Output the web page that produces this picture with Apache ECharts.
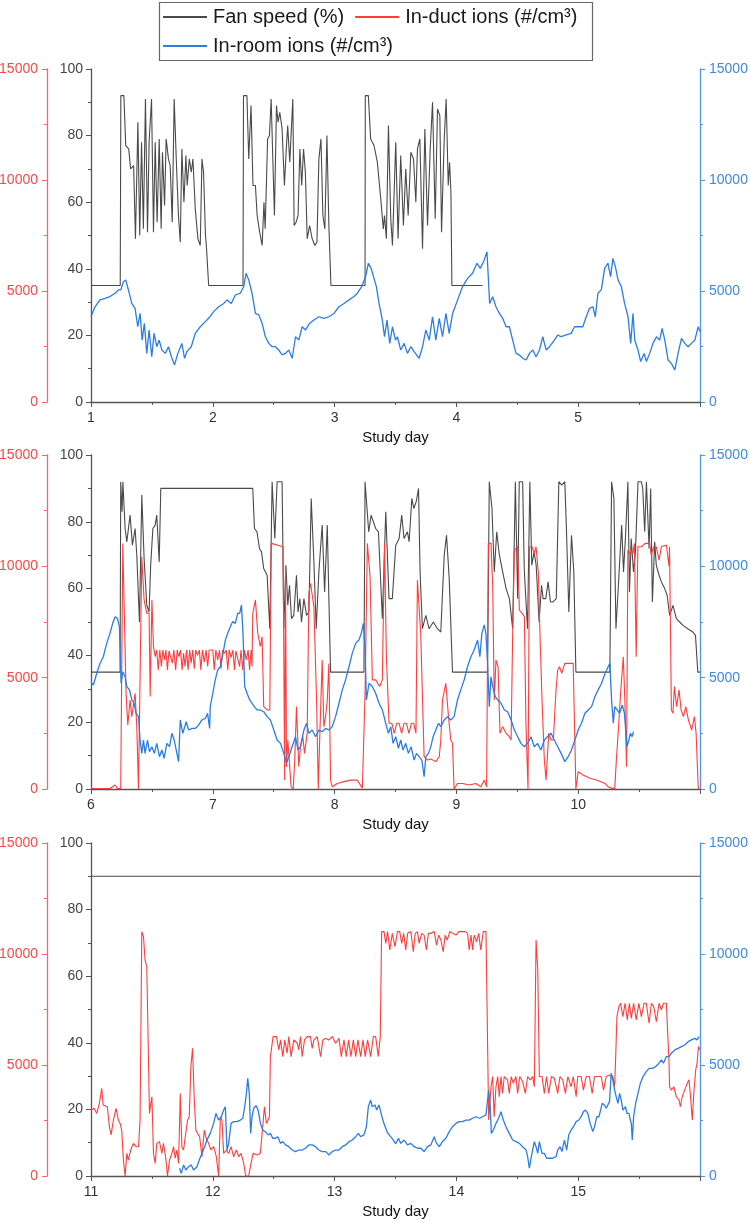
<!DOCTYPE html>
<html>
<head>
<meta charset="utf-8">
<script src="https://cdn.jsdelivr.net/npm/echarts@6/dist/echarts.min.js"></script>
<style>
html,body{margin:0;padding:0;background:#fff;}
#chart{width:750px;height:1221px;}
</style>
</head>
<body>
<div id="chart"></div>
<script>
// ---------- DATA ----------
const panelStarts = [1, 6, 11];
const seriesNames = ['Fan speed (%)', 'In-duct ions (#/cm³)', 'In-room ions (#/cm³)'];

const fanP1 = [[1.0,35],[1.24,35],[1.245,92],[1.27,92],[1.285,77],[1.31,76],[1.325,70],[1.35,71],[1.365,49],[1.385,84],[1.40,50],[1.415,78],[1.43,52],[1.447,91],[1.464,51],[1.477,78],[1.497,91],[1.513,51],[1.527,78],[1.543,54],[1.56,79],[1.576,52],[1.587,75],[1.604,59],[1.617,79],[1.636,73],[1.65,71],[1.667,54],[1.683,91],[1.70,73],[1.718,56],[1.733,48],[1.746,76],[1.763,60],[1.779,74],[1.79,65],[1.807,73],[1.823,69],[1.837,73],[1.856,58],[1.878,49],[1.897,47],[1.911,73],[1.924,69],[1.94,50],[1.947,47],[1.966,35],[2.248,35],[2.252,92],[2.28,92],[2.295,73],[2.314,89],[2.33,65],[2.35,65],[2.364,56],[2.385,51],[2.405,47],[2.42,60],[2.43,52],[2.45,79],[2.465,80],[2.479,91],[2.492,74],[2.506,56],[2.523,89],[2.536,84],[2.55,87],[2.569,82],[2.588,65],[2.605,77],[2.615,83],[2.632,72],[2.657,91],[2.668,53],[2.684,54],[2.70,56],[2.715,76],[2.73,65],[2.745,76],[2.76,69],[2.775,49],[2.795,53],[2.816,49],[2.838,47],[2.855,48],[2.871,73],[2.888,79],[2.904,56],[2.92,52],[2.937,80],[2.953,53],[2.97,35],[3.25,35],[3.252,92],[3.277,92],[3.296,79],[3.324,77],[3.351,72],[3.379,61],[3.40,52],[3.41,56],[3.425,49],[3.442,83],[3.461,55],[3.475,47],[3.502,78],[3.521,49],[3.543,74],[3.565,53],[3.584,70],[3.604,56],[3.626,75],[3.648,73],[3.667,60],[3.68,76],[3.70,79],[3.722,46],[3.741,82],[3.763,53],[3.785,76],[3.804,90],[3.826,55],[3.845,88],[3.864,86],[3.878,51],[3.90,79],[3.916,91],[3.933,65],[3.944,72],[3.955,63],[3.963,35],[4.215,35]];

const roomP1 = [[1.0,3840],[1.033,4290],[1.074,4600],[1.115,4670],[1.156,4750],[1.198,4900],[1.225,5050],[1.245,5050],[1.266,5420],[1.285,5500],[1.307,5050],[1.335,4440],[1.362,4220],[1.384,3390],[1.403,3990],[1.42,2790],[1.438,3540],[1.458,2190],[1.477,3240],[1.499,2040],[1.518,3090],[1.54,2490],[1.56,2790],[1.582,2340],[1.61,2190],[1.636,2490],[1.66,2040],[1.686,1670],[1.713,2190],[1.746,2640],[1.768,1970],[1.787,2270],[1.823,2490],[1.856,3090],[1.897,3390],[1.924,3540],[1.966,3770],[2.007,4070],[2.048,4290],[2.09,4440],[2.117,4600],[2.152,4440],[2.185,4820],[2.226,4900],[2.254,5200],[2.273,5800],[2.295,5500],[2.322,4900],[2.35,3990],[2.378,3920],[2.405,3540],[2.432,2940],[2.46,2640],[2.487,2490],[2.514,2490],[2.542,2340],[2.569,2120],[2.597,2190],[2.624,2340],[2.652,1970],[2.679,2940],[2.706,2790],[2.734,3390],[2.761,3240],[2.794,3540],[2.83,3690],[2.871,3840],[2.912,3770],[2.953,3840],[2.995,3990],[3.036,4290],[3.077,4440],[3.118,4600],[3.159,4750],[3.187,4900],[3.222,5200],[3.255,5650],[3.277,6250],[3.30,6020],[3.343,5200],[3.365,4440],[3.392,3690],[3.41,2940],[3.43,3690],[3.453,2640],[3.475,3390],[3.50,2790],[3.516,2940],[3.543,2340],[3.571,2640],[3.598,2190],[3.626,2490],[3.653,2270],[3.694,1970],[3.722,2490],[3.749,3240],[3.777,2790],[3.804,3840],[3.831,2790],[3.859,3770],[3.886,2940],[3.914,3990],[3.941,3090],[3.969,3990],[4.01,4600],[4.051,5200],[4.092,5570],[4.133,5800],[4.169,6250],[4.196,6020],[4.229,6400],[4.251,6770],[4.273,4440],[4.298,4740],[4.325,4290],[4.353,3990],[4.38,3770],[4.408,3390],[4.435,3390],[4.462,2790],[4.49,2190],[4.517,2120],[4.545,1970],[4.572,1890],[4.6,2190],[4.627,2340],[4.654,2040],[4.682,2340],[4.709,2940],[4.737,2340],[4.764,2490],[4.805,2790],[4.833,3020],[4.86,2940],[4.901,3020],[4.942,3090],[4.97,3390],[5.011,3390],[5.038,3390],[5.066,3840],[5.093,4220],[5.121,4290],[5.14,3840],[5.162,4900],[5.19,5050],[5.217,6020],[5.244,6250],[5.266,5650],[5.285,6470],[5.305,6100],[5.327,5500],[5.354,5200],[5.381,4440],[5.409,3840],[5.431,2640],[5.45,3990],[5.464,2790],[5.491,2340],[5.513,1820],[5.541,2190],[5.56,1820],[5.587,2190],[5.614,2640],[5.642,2940],[5.669,2790],[5.689,3320],[5.711,2790],[5.738,1890],[5.765,1740],[5.793,1440],[5.82,2190],[5.848,2870],[5.875,2640],[5.903,2490],[5.93,2640],[5.958,2790],[5.985,3390],[6.0,3170]];

const fanP2 = [[6.0,35],[6.239,35],[6.244,92],[6.255,83],[6.262,92],[6.27,92],[6.28,78],[6.294,74],[6.321,82],[6.34,73],[6.362,78],[6.376,70],[6.398,50],[6.417,88],[6.436,69],[6.458,55],[6.477,53],[6.49,67],[6.508,78],[6.527,79],[6.54,82],[6.56,68],[6.573,90],[7.328,90],[7.342,78],[7.363,77],[7.383,72],[7.40,71],[7.418,66],[7.446,64],[7.468,48],[7.487,92],[7.509,75],[7.528,92],[7.569,92],[7.583,48],[7.60,67],[7.616,55],[7.63,61],[7.646,51],[7.665,52],[7.687,64],[7.70,53],[7.715,57],[7.728,50],[7.748,57],[7.77,52],[7.789,53],[7.808,87],[7.83,68],[7.849,48],[7.871,65],[7.898,79],[7.918,59],[7.94,79],[7.953,57],[7.967,35],[8.241,35],[8.25,92],[8.265,92],[8.28,77],[8.30,82],[8.337,78],[8.36,77],[8.392,51],[8.42,83],[8.447,57],[8.474,57],[8.502,73],[8.53,75],[8.551,82],[8.57,75],[8.598,77],[8.612,74],[8.634,87],[8.65,84],[8.67,86],[8.689,90],[8.702,65],[8.721,48],[8.749,52],[8.776,48],[8.81,50],[8.845,48],[8.872,47],[8.9,70],[8.919,76],[8.941,63],[8.968,35],[9.256,35],[9.27,92],[9.292,84],[9.311,65],[9.331,77],[9.353,70],[9.38,65],[9.408,60],[9.435,57],[9.462,48],[9.484,92],[9.503,57],[9.516,92],[9.544,92],[9.557,66],[9.57,57],[9.584,48],[9.603,92],[9.619,67],[9.638,71],[9.655,67],[9.679,50],[9.699,61],[9.712,57],[9.734,57],[9.753,62],[9.772,56],[9.793,56],[9.82,57],[9.841,92],[9.865,91],[9.89,92],[9.904,77],[9.923,53],[9.945,76],[9.964,65],[9.981,35],[10.26,35],[10.274,92],[10.293,87],[10.31,48],[10.33,61],[10.357,79],[10.372,65],[10.389,76],[10.408,92],[10.421,59],[10.435,75],[10.454,65],[10.47,71],[10.491,92],[10.518,92],[10.53,90],[10.546,77],[10.56,92],[10.582,72],[10.595,90],[10.609,56],[10.628,74],[10.641,67],[10.664,64],[10.683,62],[10.71,60],[10.73,58],[10.751,52],[10.778,55],[10.806,51],[10.833,50],[10.86,49],[10.9,48],[10.941,47],[10.963,46],[10.982,35],[11.0,35]];

const ductP2 = [[6.0,20],[6.156,20],[6.198,180],[6.217,20],[6.244,20],[6.261,11030],[6.272,11030],[6.288,4300],[6.302,2870],[6.321,4000],[6.335,3250],[6.362,4300],[6.376,2800],[6.39,0],[6.405,0],[6.417,10430],[6.436,8490],[6.458,7890],[6.477,7890],[6.486,4150],[6.5,8490],[6.513,6390],[6.527,5940],[6.54,6240],[6.552,5350],[6.565,6240],[6.578,5500],[6.59,6240],[6.603,5800],[6.615,6240],[6.628,5350],[6.64,6200],[6.655,6240],[6.668,5650],[6.68,6240],[6.695,5350],[6.708,6240],[6.72,5950],[6.735,6240],[6.748,5350],[6.76,6100],[6.772,5500],[6.785,6240],[6.797,5350],[6.81,6240],[6.822,5650],[6.835,6240],[6.848,5400],[6.86,6240],[6.875,6000],[6.89,6240],[6.902,5350],[6.915,6240],[6.93,5700],[6.945,6240],[6.958,5500],[6.97,6240],[6.985,6200],[7.0,6240],[7.012,5350],[7.025,6240],[7.04,5800],[7.055,6240],[7.068,5400],[7.08,6240],[7.095,6100],[7.11,6240],[7.123,5350],[7.135,6240],[7.15,5900],[7.165,6240],[7.178,5350],[7.19,6200],[7.205,6240],[7.22,5500],[7.232,6240],[7.245,5350],[7.26,6240],[7.275,5800],[7.29,6240],[7.302,5350],[7.315,6240],[7.322,5500],[7.328,7890],[7.35,8490],[7.369,7000],[7.39,6400],[7.405,6840],[7.418,3700],[7.446,3550],[7.468,3550],[7.48,11030],[7.577,10880],[7.59,400],[7.597,9990],[7.605,1000],[7.616,2200],[7.643,100],[7.66,0],[7.673,1300],[7.687,3700],[7.706,1000],[7.72,1900],[7.739,2350],[7.753,1600],[7.775,2500],[7.789,8780],[7.802,9240],[7.83,8190],[7.852,4000],[7.866,0],[7.879,2500],[7.898,5790],[7.912,2800],[7.926,3250],[7.94,4000],[7.953,5640],[7.967,400],[7.981,100],[8.022,250],[8.077,330],[8.132,400],[8.187,400],[8.228,30],[8.25,4300],[8.269,11030],[8.291,9540],[8.31,4900],[8.337,4900],[8.37,4600],[8.392,4900],[8.41,11030],[8.425,6000],[8.447,2950],[8.47,2950],[8.49,2500],[8.51,2950],[8.53,2950],[8.55,2500],[8.57,2950],[8.59,2950],[8.61,2500],[8.63,2950],[8.65,2950],[8.668,2500],[8.68,9390],[8.69,9470],[8.707,6990],[8.735,1450],[8.762,1300],[8.79,1350],[8.831,1230],[8.859,1450],[8.872,2200],[8.886,4000],[8.913,4750],[8.935,3250],[8.954,2200],[8.968,2050],[8.981,0],[9.009,250],[9.05,250],[9.105,180],[9.16,250],[9.201,100],[9.229,400],[9.248,100],[9.262,11030],[9.284,11030],[9.298,9090],[9.311,4000],[9.325,5790],[9.342,5490],[9.358,2500],[9.38,2800],[9.408,2500],[9.435,2350],[9.449,2200],[9.462,6990],[9.476,10730],[9.503,10880],[9.517,8040],[9.539,7890],[9.558,7740],[9.571,2950],[9.588,0],[9.6,10880],[9.621,10880],[9.64,10580],[9.654,10880],[9.673,9690],[9.686,6990],[9.703,4000],[9.722,1300],[9.736,400],[9.758,2500],[9.777,2200],[9.796,2200],[9.818,4450],[9.832,5340],[9.846,5490],[9.865,5190],[9.89,5640],[9.918,5640],[9.959,5640],[9.981,0],[10.0,780],[10.04,630],[10.096,480],[10.151,400],[10.22,250],[10.246,100],[10.274,30],[10.3,30],[10.315,1450],[10.328,2500],[10.348,4300],[10.37,5940],[10.383,4000],[10.397,1000],[10.408,10730],[10.421,10580],[10.435,10730],[10.448,10580],[10.462,11030],[10.476,5940],[10.49,10880],[10.52,10880],[10.55,11030],[10.586,11030],[10.6,10500],[10.62,10880],[10.64,10880],[10.664,10280],[10.683,10880],[10.724,10960],[10.746,9990],[10.75,10880],[10.765,3550],[10.778,3400],[10.79,4600],[10.808,3700],[10.828,4450],[10.845,3550],[10.864,3250],[10.883,3700],[10.905,3100],[10.932,2650],[10.954,3250],[10.968,2500],[10.986,0],[11.0,0]];

const roomP2 = [[6.0,4820],[6.02,4670],[6.047,5200],[6.074,5640],[6.101,5940],[6.129,6540],[6.156,6990],[6.178,7440],[6.198,7740],[6.217,7660],[6.233,7290],[6.247,4750],[6.261,5270],[6.28,5040],[6.294,4600],[6.316,4450],[6.335,4000],[6.354,3850],[6.37,3400],[6.39,3250],[6.403,2200],[6.417,1600],[6.431,2200],[6.444,1600],[6.464,2200],[6.48,1680],[6.5,1900],[6.52,1600],[6.54,2050],[6.562,1450],[6.582,1750],[6.6,1380],[6.623,2050],[6.645,1900],[6.664,2500],[6.683,2200],[6.7,1750],[6.719,1230],[6.733,3100],[6.754,2500],[6.782,3020],[6.801,2650],[6.829,2720],[6.856,2720],[6.883,2870],[6.911,3100],[6.938,3170],[6.957,3400],[6.974,2720],[6.979,3700],[7.0,4300],[7.02,4900],[7.04,5340],[7.062,5490],[7.084,6090],[7.103,6690],[7.122,6990],[7.144,7290],[7.163,7520],[7.185,7440],[7.204,7890],[7.221,7890],[7.235,8260],[7.248,6990],[7.262,4600],[7.281,4300],[7.303,4000],[7.322,3850],[7.342,3700],[7.363,3550],[7.391,3550],[7.418,3470],[7.446,3250],[7.473,3100],[7.501,2650],[7.528,2200],[7.556,2050],[7.583,1600],[7.605,1150],[7.624,1450],[7.651,1900],[7.679,2350],[7.7,1750],[7.72,1900],[7.748,2650],[7.77,2950],[7.789,2500],[7.816,2650],[7.844,2350],[7.871,2650],[7.898,2570],[7.926,2720],[7.953,2650],[7.981,2800],[8.008,3250],[8.036,3850],[8.063,4450],[8.09,4900],[8.118,5490],[8.145,6090],[8.173,6540],[8.2,6690],[8.219,6990],[8.236,7440],[8.25,6390],[8.261,4000],[8.283,4750],[8.31,4600],[8.337,4300],[8.365,3850],[8.392,3550],[8.42,2950],[8.442,2500],[8.461,2800],[8.48,2050],[8.502,2350],[8.524,1830],[8.543,2200],[8.562,1750],[8.584,2050],[8.606,1600],[8.628,1900],[8.653,1300],[8.672,1600],[8.694,1450],[8.716,1300],[8.735,550],[8.749,1450],[8.77,1600],[8.79,1900],[8.809,2350],[8.831,2650],[8.853,2950],[8.872,2800],[8.9,3100],[8.927,3250],[8.954,3100],[8.981,3250],[9.009,4000],[9.036,4450],[9.064,4900],[9.091,5490],[9.119,5940],[9.146,6240],[9.174,6690],[9.193,5940],[9.209,6990],[9.229,7370],[9.242,6990],[9.256,5640],[9.27,3700],[9.284,5040],[9.298,4600],[9.319,4150],[9.339,4000],[9.366,3850],[9.394,3550],[9.421,3470],[9.449,3100],[9.476,2650],[9.503,2350],[9.53,2050],[9.558,1900],[9.584,2050],[9.612,2350],[9.64,1900],[9.666,2050],[9.694,1750],[9.722,2200],[9.748,2350],[9.777,2500],[9.804,2200],[9.832,1900],[9.86,1600],[9.89,1230],[9.918,1450],[9.945,1750],[9.973,2200],[10.0,2650],[10.027,2950],[10.055,3400],[10.082,3550],[10.11,3700],[10.137,4150],[10.164,4450],[10.192,4750],[10.22,5190],[10.246,5490],[10.26,5640],[10.274,4000],[10.288,2950],[10.3,3700],[10.32,3550],[10.34,3400],[10.362,3770],[10.38,3400],[10.4,1900],[10.416,2200],[10.428,2500],[10.443,2350],[10.454,2570]];

const fanP3 = [[11,90],[16,90]];

const ductP3 = [[11.0,2970],[11.025,3050],[11.047,2820],[11.069,3270],[11.088,3950],[11.1,3200],[11.115,3270],[11.134,3120],[11.151,2220],[11.165,1850],[11.184,2520],[11.206,3050],[11.225,2520],[11.239,2370],[11.252,2070],[11.266,720],[11.28,0],[11.294,1020],[11.307,720],[11.326,1170],[11.348,1470],[11.37,1320],[11.39,1320],[11.403,2520],[11.417,11010],[11.431,10780],[11.444,9730],[11.458,9430],[11.472,9510],[11.48,2820],[11.491,3270],[11.5,3570],[11.513,1020],[11.527,570],[11.54,1470],[11.562,1550],[11.582,1020],[11.595,1470],[11.614,800],[11.628,0],[11.645,720],[11.664,1020],[11.678,1320],[11.691,800],[11.705,1170],[11.719,570],[11.733,3720],[11.746,1320],[11.76,1170],[11.774,1770],[11.793,2520],[11.807,2670],[11.82,4950],[11.834,5750],[11.848,3420],[11.861,2070],[11.875,1920],[11.892,1770],[11.911,870],[11.93,2070],[11.946,1700],[11.966,1470],[11.985,1170],[12.007,1320],[12.029,870],[12.048,0],[12.062,2670],[12.075,2520],[12.089,1020],[12.111,1170],[12.13,1020],[12.15,1320],[12.171,870],[12.193,1170],[12.213,870],[12.232,1020],[12.254,570],[12.27,0],[12.295,0],[12.314,570],[12.331,1020],[12.364,950],[12.39,1020],[12.405,1920],[12.424,3120],[12.44,2370],[12.454,2520],[12.465,2670],[12.473,5380],[12.495,6280],[12.523,6280],[12.542,5680],[12.556,6130],[12.575,5380],[12.591,6130],[12.61,5530],[12.624,6280],[12.643,5380],[12.665,6130],[12.693,5980],[12.706,5680],[12.72,6280],[12.734,5380],[12.753,6130],[12.775,6280],[12.802,6280],[12.816,5750],[12.83,6130],[12.857,6280],[12.885,5380],[12.904,6130],[12.926,6200],[12.953,6130],[12.981,6280],[13.008,5980],[13.036,6200],[13.055,5380],[13.077,6130],[13.096,5380],[13.115,6130],[13.134,5380],[13.154,6130],[13.173,5380],[13.192,6130],[13.214,5380],[13.233,6130],[13.252,5380],[13.271,6130],[13.296,5380],[13.318,6280],[13.337,6280],[13.359,5380],[13.375,6280],[13.386,11010],[13.406,11010],[13.42,10480],[13.435,11010],[13.453,10180],[13.474,10930],[13.496,10330],[13.516,11010],[13.535,11010],[13.551,10480],[13.567,10930],[13.584,10180],[13.6,10930],[13.626,11010],[13.646,10100],[13.662,10930],[13.68,11010],[13.694,10480],[13.715,10930],[13.735,10850],[13.754,10180],[13.77,10930],[13.79,10930],[13.818,11010],[13.837,10400],[13.855,10850],[13.873,10630],[13.892,10100],[13.908,10850],[13.925,10630],[13.946,11010],[13.97,10930],[13.996,10850],[14.02,11010],[14.045,11010],[14.073,11010],[14.092,10930],[14.105,10180],[14.12,10850],[14.133,10180],[14.146,10850],[14.166,10550],[14.183,10930],[14.2,10180],[14.221,11010],[14.243,11010],[14.257,11010],[14.265,2520],[14.276,2450],[14.284,4020],[14.298,4480],[14.31,2670],[14.325,4020],[14.339,4480],[14.352,3570],[14.366,4480],[14.379,3720],[14.393,4480],[14.42,4330],[14.434,3720],[14.45,4480],[14.467,4180],[14.489,4480],[14.503,3720],[14.52,4480],[14.544,4250],[14.566,3720],[14.585,4480],[14.605,4330],[14.626,4480],[14.64,4020],[14.654,10630],[14.668,9280],[14.681,4480],[14.703,4480],[14.722,3720],[14.74,4480],[14.758,3720],[14.78,4480],[14.804,4400],[14.832,3720],[14.85,4480],[14.873,4330],[14.895,3720],[14.915,4480],[14.942,4020],[14.96,4480],[14.983,3570],[14.996,4480],[15.024,4480],[15.043,3870],[15.065,4480],[15.092,4480],[15.115,3720],[15.134,4480],[15.161,4480],[15.189,4480],[15.208,3870],[15.23,4480],[15.257,4550],[15.285,4480],[15.299,4020],[15.307,5230],[15.318,7180],[15.334,7630],[15.348,7780],[15.367,7180],[15.385,7780],[15.403,7030],[15.42,7780],[15.436,7100],[15.455,7780],[15.477,7030],[15.498,7780],[15.519,7180],[15.54,7780],[15.559,7780],[15.582,6880],[15.601,7780],[15.62,7630],[15.642,6950],[15.664,7780],[15.683,7480],[15.7,7780],[15.724,7780],[15.737,7780],[15.746,5080],[15.75,4020],[15.765,3870],[15.785,4020],[15.806,3570],[15.828,3420],[15.839,3120],[15.854,3570],[15.874,3870],[15.894,4170],[15.91,4330],[15.92,3720],[15.937,2520],[15.949,3720],[15.965,4780],[15.976,5080],[15.987,5830],[15.998,5680]];

const roomP3 = [[11.727,350],[11.741,120],[11.76,500],[11.779,270],[11.801,420],[11.823,500],[11.842,270],[11.87,420],[11.889,720],[11.911,1020],[11.933,1320],[11.952,1620],[11.979,1920],[12.007,2370],[12.026,2820],[12.048,2520],[12.07,2670],[12.089,2970],[12.103,3120],[12.117,1170],[12.13,1470],[12.15,2370],[12.171,2450],[12.199,2450],[12.226,2520],[12.246,2600],[12.262,3120],[12.276,3720],[12.287,4400],[12.3,3720],[12.311,1920],[12.322,2670],[12.336,3050],[12.355,3170],[12.372,2970],[12.391,2370],[12.41,2070],[12.432,1990],[12.454,1850],[12.473,1920],[12.492,1700],[12.514,1700],[12.534,1770],[12.556,1470],[12.575,1550],[12.597,1400],[12.624,1320],[12.652,1170],[12.679,1100],[12.706,1170],[12.734,1170],[12.761,1250],[12.789,1400],[12.816,1400],[12.843,1320],[12.871,1170],[12.898,1100],[12.926,1100],[12.953,950],[12.981,1100],[13.008,1170],[13.036,1170],[13.063,1320],[13.091,1400],[13.118,1550],[13.145,1620],[13.173,1770],[13.195,1920],[13.214,1770],[13.241,1850],[13.261,2220],[13.277,3120],[13.296,3420],[13.31,3120],[13.332,3200],[13.346,2970],[13.365,3200],[13.387,2700],[13.406,2350],[13.433,1970],[13.453,1820],[13.475,1670],[13.502,1450],[13.524,1700],[13.543,1470],[13.571,1620],[13.598,1400],[13.626,1470],[13.653,1320],[13.68,1250],[13.708,1250],[13.735,1100],[13.763,1320],[13.79,1400],[13.818,1770],[13.837,1470],[13.859,1320],[13.886,1550],[13.914,1700],[13.941,2000],[13.968,2220],[13.996,2370],[14.023,2450],[14.05,2450],[14.078,2520],[14.105,2520],[14.133,2600],[14.16,2670],[14.188,2600],[14.215,2670],[14.243,2750],[14.259,2670],[14.265,3870],[14.276,3270],[14.287,1920],[14.303,2070],[14.325,2370],[14.347,2600],[14.366,2900],[14.385,2520],[14.407,2220],[14.434,1920],[14.462,1620],[14.489,1550],[14.517,1470],[14.544,1320],[14.572,1170],[14.585,870],[14.599,350],[14.613,800],[14.626,1170],[14.64,1550],[14.654,1320],[14.668,1020],[14.681,1550],[14.703,1020],[14.722,1020],[14.741,800],[14.763,800],[14.79,800],[14.818,870],[14.832,1170],[14.851,1320],[14.867,1100],[14.887,1620],[14.906,1170],[14.922,1850],[14.942,2070],[14.961,2220],[14.983,2450],[15.005,2520],[15.024,2670],[15.043,2900],[15.06,2970],[15.079,2820],[15.098,2370],[15.12,2000],[15.134,2220],[15.153,2670],[15.17,2670],[15.181,2900],[15.197,3270],[15.216,3200],[15.23,3050],[15.244,2970],[15.257,3350],[15.271,4630],[15.285,4320],[15.299,3870],[15.312,3570],[15.326,3270],[15.34,3720],[15.353,3420],[15.367,2970],[15.389,3120],[15.4,2820],[15.417,2820],[15.428,2520],[15.436,2370],[15.444,1620],[15.455,2670],[15.472,3270],[15.491,3720],[15.51,4170],[15.532,4480],[15.559,4700],[15.582,4850],[15.609,4850],[15.636,4930],[15.664,5080],[15.683,5230],[15.7,5080],[15.724,5380],[15.746,5380],[15.765,5530],[15.793,5680],[15.82,5750],[15.848,5830],[15.874,5900],[15.903,6050],[15.93,6130],[15.957,6200],[15.976,6130],[15.992,6280]];

const fanData = [fanP1, fanP2, fanP3];
const ductData = [null, ductP2, ductP3];
const roomData = [roomP1, roomP2, roomP3];

// ---------- STYLE ----------
const FONT = '"Liberation Sans", Arial, sans-serif';
const C_FAN = '#4a4a4a', C_DUCT = '#ff3d3d', C_ROOM = '#2b7ce3';
const C_AX = '#555555', C_RED_AX = '#ff6262', C_BLUE_AX = '#4f93ec';
const C_RED_LB = '#ff4646', C_BLUE_LB = '#3c89e8';
const gridTops = [69, 455, 843];
const gridHeights = [333, 334, 333];
const plainNum = v => String(v);

const grids = [], xAxes = [], yAxes = [], series = [];
panelStarts.forEach((s, i) => {
  grids.push({left: 91, right: 50, top: gridTops[i], height: gridHeights[i],
    containLabel: false, outerBoundsMode: 'none'});
  xAxes.push({
    type: 'value', gridIndex: i, min: s, max: s + 5, interval: 1,
    axisLine: {show: true, onZero: false, lineStyle: {color: C_AX, width: 1.3}},
    axisTick: {show: true, length: 5, lineStyle: {color: C_AX}},
    minorTick: {show: true, splitNumber: 2, length: 3, lineStyle: {color: C_AX}},
    splitLine: {show: false},
    axisLabel: {fontSize: 14, color: '#333', margin: 9, showMaxLabel: false, fontFamily: FONT, formatter: plainNum},
    name: 'Study day', nameLocation: 'middle', nameGap: 28,
    nameTextStyle: {fontSize: 15, color: '#111', fontFamily: FONT}
  });
  const base = i * 3;
  yAxes.push({
    type: 'value', gridIndex: i, position: 'left', offset: 0, min: 0, max: 100, interval: 20,
    axisLine: {show: true, onZero: false, lineStyle: {color: C_AX, width: 1.3}},
    axisTick: {show: true, length: 5, lineStyle: {color: C_AX}},
    minorTick: {show: true, splitNumber: 2, length: 3, lineStyle: {color: C_AX}},
    splitLine: {show: false},
    axisLabel: {fontSize: 14, color: '#444', margin: 8, fontFamily: FONT, formatter: plainNum}
  });
  yAxes.push({
    type: 'value', gridIndex: i, position: 'left', offset: 44, min: 0, max: 15000, interval: 5000,
    axisLine: {show: true, onZero: false, lineStyle: {color: C_RED_AX, width: 1.3}},
    axisTick: {show: true, length: 5, lineStyle: {color: C_RED_AX}},
    minorTick: {show: true, splitNumber: 2, length: 3, lineStyle: {color: C_RED_AX}},
    splitLine: {show: false},
    axisLabel: {fontSize: 14, color: C_RED_LB, margin: 9, fontFamily: FONT, formatter: plainNum}
  });
  yAxes.push({
    type: 'value', gridIndex: i, position: 'right', offset: 0, min: 0, max: 15000, interval: 5000,
    axisLine: {show: true, onZero: false, lineStyle: {color: C_BLUE_AX, width: 1.3}},
    axisTick: {show: true, length: 5, lineStyle: {color: C_BLUE_AX}},
    minorTick: {show: true, splitNumber: 2, length: 3, lineStyle: {color: C_BLUE_AX}},
    splitLine: {show: false},
    axisLabel: {fontSize: 14, color: C_BLUE_LB, margin: 9, fontFamily: FONT, formatter: plainNum}
  });
  series.push({name: seriesNames[0], type: 'line', xAxisIndex: i, yAxisIndex: base, data: fanData[i],
    showSymbol: false, symbol: 'none', color: C_FAN, lineStyle: {color: C_FAN, width: 1.1}});
  series.push({name: seriesNames[1], type: 'line', xAxisIndex: i, yAxisIndex: base + 1, data: ductData[i] || [],
    showSymbol: false, symbol: 'none', color: C_DUCT, lineStyle: {color: C_DUCT, width: 1.1}});
  series.push({name: seriesNames[2], type: 'line', xAxisIndex: i, yAxisIndex: base + 2, data: roomData[i],
    showSymbol: false, symbol: 'none', color: C_ROOM, lineStyle: {color: C_ROOM, width: 1.3}});
});

const legendCommon = {
  orient: 'horizontal', icon: 'rect', itemWidth: 44, itemHeight: 2, itemGap: 11, padding: 0,
  selectedMode: false,
  textStyle: {fontSize: 20, color: '#1a1a1a', fontFamily: FONT, padding: [0, 0, 0, 1]}
};

const option = {
  animation: false,
  backgroundColor: '#fff',
  textStyle: {fontFamily: FONT},
  grid: grids, xAxis: xAxes, yAxis: yAxes, series: series,
  legend: [
    Object.assign({}, legendCommon, {left: 163, top: 7, data: [seriesNames[0], seriesNames[1]]}),
    Object.assign({}, legendCommon, {left: 163, top: 36, data: [seriesNames[2]]})
  ],
  graphic: [{type: 'rect', shape: {x: 159.5, y: 2.5, width: 433, height: 58},
    style: {fill: 'none', stroke: '#666', lineWidth: 1.2}, z: 100}]
};

const chart = echarts.init(document.getElementById('chart'), null, {renderer: 'canvas'});
chart.setOption(option);
</script>
</body>
</html>
